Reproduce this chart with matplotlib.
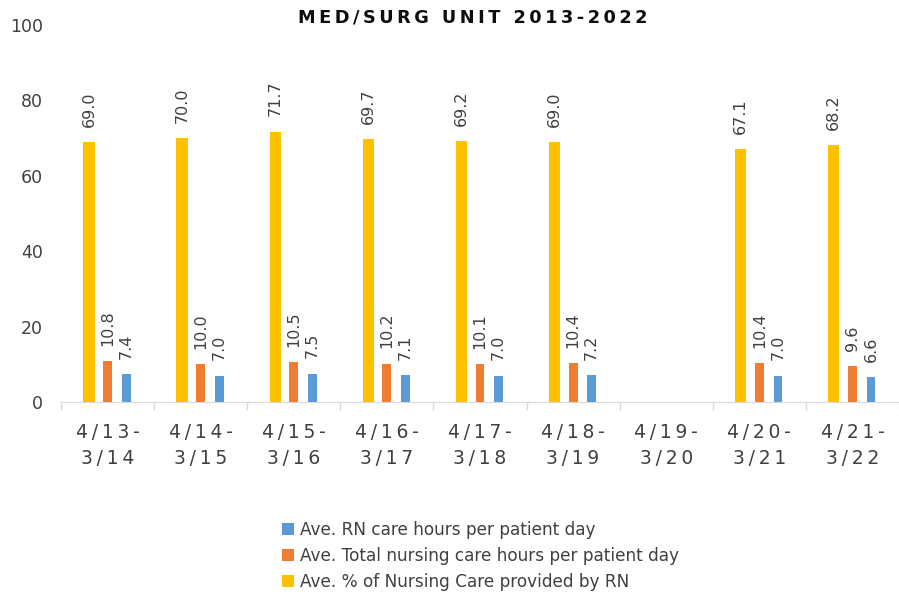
import numpy as np
import matplotlib
matplotlib.use("Agg")
import matplotlib.pyplot as plt

periods = ["4/13-\n3/14", "4/14-\n3/15", "4/15-\n3/16", "4/16-\n3/17", "4/17-\n3/18",
           "4/18-\n3/19", "4/19-\n3/20", "4/20-\n3/21", "4/21-\n3/22"]
pct_rn = [69.0, 70.0, 71.7, 69.7, 69.2, 69.0, np.nan, 67.1, 68.2]
total_hours = [10.8, 10.0, 10.5, 10.2, 10.1, 10.4, np.nan, 10.4, 9.6]
rn_hours = [7.4, 7.0, 7.5, 7.1, 7.0, 7.2, np.nan, 7.0, 6.6]

names = ["Ave. RN care hours per patient day",
         "Ave. Total nursing care hours per patient day",
         "Ave. % of Nursing Care provided by RN"]
blue, orange, yellow = "#5B9BD5", "#ED7D31", "#FFC000"
txt = "#404040"


def spaced(s, sep="\u2009"):
    return "\n".join(sep.join(line) for line in s.split("\n"))


fig = plt.figure(figsize=(8.99, 5.94), dpi=100)
ax = fig.add_axes([61 / 899, 1 - 402 / 594, 1 - 61 / 899, (402 - 25) / 594])

x = np.arange(len(periods))
b3 = ax.bar(x - 0.2, pct_rn, 0.12, color=yellow, label=names[2])
b2 = ax.bar(x, total_hours, 0.095, color=orange, label=names[1])
b1 = ax.bar(x + 0.2, rn_hours, 0.095, color=blue, label=names[0])

for bars, vals in [(b3, pct_rn), (b2, total_hours), (b1, rn_hours)]:
    for r, v in zip(bars, vals):
        if np.isnan(v):
            continue
        ax.annotate(f"{v:.1f}", (r.get_x() + r.get_width() / 2, v), xytext=(0, 11),
                    textcoords="offset points", rotation=90, ha="center", va="bottom",
                    fontsize=11.5, color=txt)

ax.set_xlim(-0.5, 8.46)
ax.set_ylim(0, 100)
ax.set_yticks(range(0, 101, 20))
ax.set_xticks(x)
ax.set_xticklabels([spaced(p) for p in periods], fontsize=13.5, color=txt, linespacing=1.45)
ax.set_xticks(np.arange(-0.5, 9, 1), minor=True)
ax.tick_params(axis="x", which="major", length=0, pad=15)
ax.tick_params(axis="x", which="minor", length=6, color="#D9D9D9", width=1)
ax.tick_params(axis="y", length=0, labelsize=12.5, labelcolor=txt, pad=13)

for s in ["top", "right", "left"]:
    ax.spines[s].set_visible(False)
ax.spines["bottom"].set_color("#D9D9D9")

fig.text(473 / 899, 1 - 18 / 594, spaced("MED/SURG UNIT 2013-2022"), ha="center", va="center",
         fontsize=12.8, fontweight="bold", color="#0D0D0D")

h, l = ax.get_legend_handles_labels()
fig.legend(h[::-1], l[::-1], loc="upper left", bbox_to_anchor=(275 / 899, 1 - 514 / 594),
           frameon=False, fontsize=12.2, handlelength=0.75, handleheight=0.75,
           handletextpad=0.3, labelspacing=0.48, labelcolor=txt, borderaxespad=0)

fig.savefig("out.png", dpi=100)
